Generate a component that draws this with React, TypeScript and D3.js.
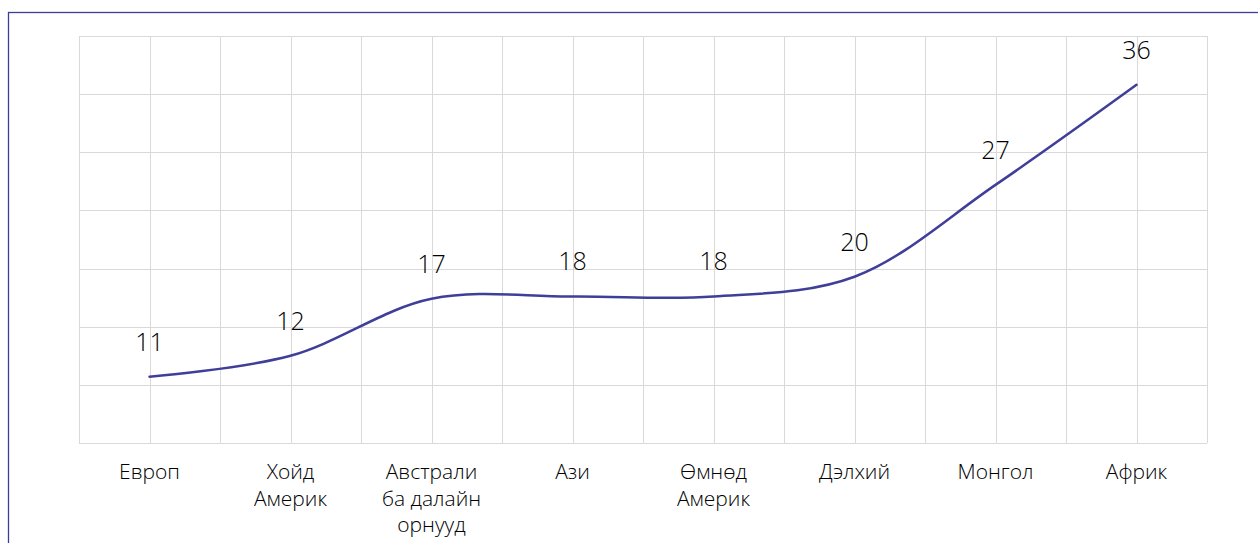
import React from 'react';
import * as d3 from 'd3';

const categories = ['Европ', 'Хойд Америк', 'Австрали ба далайн орнууд', 'Ази', 'Өмнөд Америк', 'Дэлхий', 'Монгол', 'Африк'];
const categoryLines = [['Европ'], ['Хойд', 'Америк'], ['Австрали', 'ба далайн', 'орнууд'], ['Ази'], ['Өмнөд', 'Америк'], ['Дэлхий'], ['Монгол'], ['Африк']];
const values = [10.7, 12.5, 17.4, 17.6, 17.6, 19.3, 27.2, 35.8];
const valueLabels = ['11', '12', '17', '18', '18', '20', '27', '36'];
const yTicks = [5, 10, 15, 20, 25, 30, 35, 40];

const width = 1258;
const height = 543;
const left = 79;
const right = 1207;
const top = 36;
const bottom = 443;
const font = '"Open Sans", "Noto Sans", sans-serif';

export default function App() {
  const x = d3.scaleBand().domain(categories).range([left, right]).padding(0);
  const y = d3.scaleLinear().domain([5, 40]).range([bottom, top]);
  const bw = x.bandwidth();
  const cx = (c: string) => (x(c) as number) + bw / 2;

  // vertical grid: band edges and centers
  const vLines: number[] = [];
  categories.forEach((c) => {
    vLines.push(x(c) as number);
    vLines.push(cx(c));
  });
  vLines.push(right);

  const line = d3.line<number>()
    .x((d, i) => cx(categories[i]))
    .y((d) => y(d))
    .curve(d3.curveCatmullRom);

  return (
    <svg width={width} height={height} style={{ position: 'absolute', left: 0, top: 0, background: '#fff' }}>
      <rect x={8.5} y={12.5} width={1300} height={600} fill="none" stroke="#3c3c9c" strokeWidth={1.3} />
      <g stroke="#d9d9d9" strokeWidth={1}>
        {yTicks.map((t) => (
          <line key={t} x1={left} x2={right} y1={Math.round(y(t)) + 0.5} y2={Math.round(y(t)) + 0.5} />
        ))}
        {vLines.map((v, i) => (
          <line key={i} x1={Math.round(v) + 0.5} x2={Math.round(v) + 0.5} y1={top} y2={bottom} />
        ))}
      </g>
      <path d={line(values) || ''} fill="none" stroke="#3f3f9a" strokeWidth={2.5} strokeLinejoin="round" strokeLinecap="round" />
      <g fontFamily={font} fontSize={25} fontWeight={350} fill="#000" textAnchor="middle">
        {values.map((v, i) => (
          <text key={i} x={cx(categories[i])} y={y(v) - 26}>{valueLabels[i]}</text>
        ))}
      </g>
      <g fontFamily={font} fontSize={21} fontWeight={350} fill="#000" textAnchor="middle">
        {categoryLines.map((lines, i) => (
          <text key={i} x={cx(categories[i])} y={479}>
            {lines.map((l, j) => (
              <tspan key={j} x={cx(categories[i])} dy={j === 0 ? 0 : 26.5}>{l}</tspan>
            ))}
          </text>
        ))}
      </g>
    </svg>
  );
}
